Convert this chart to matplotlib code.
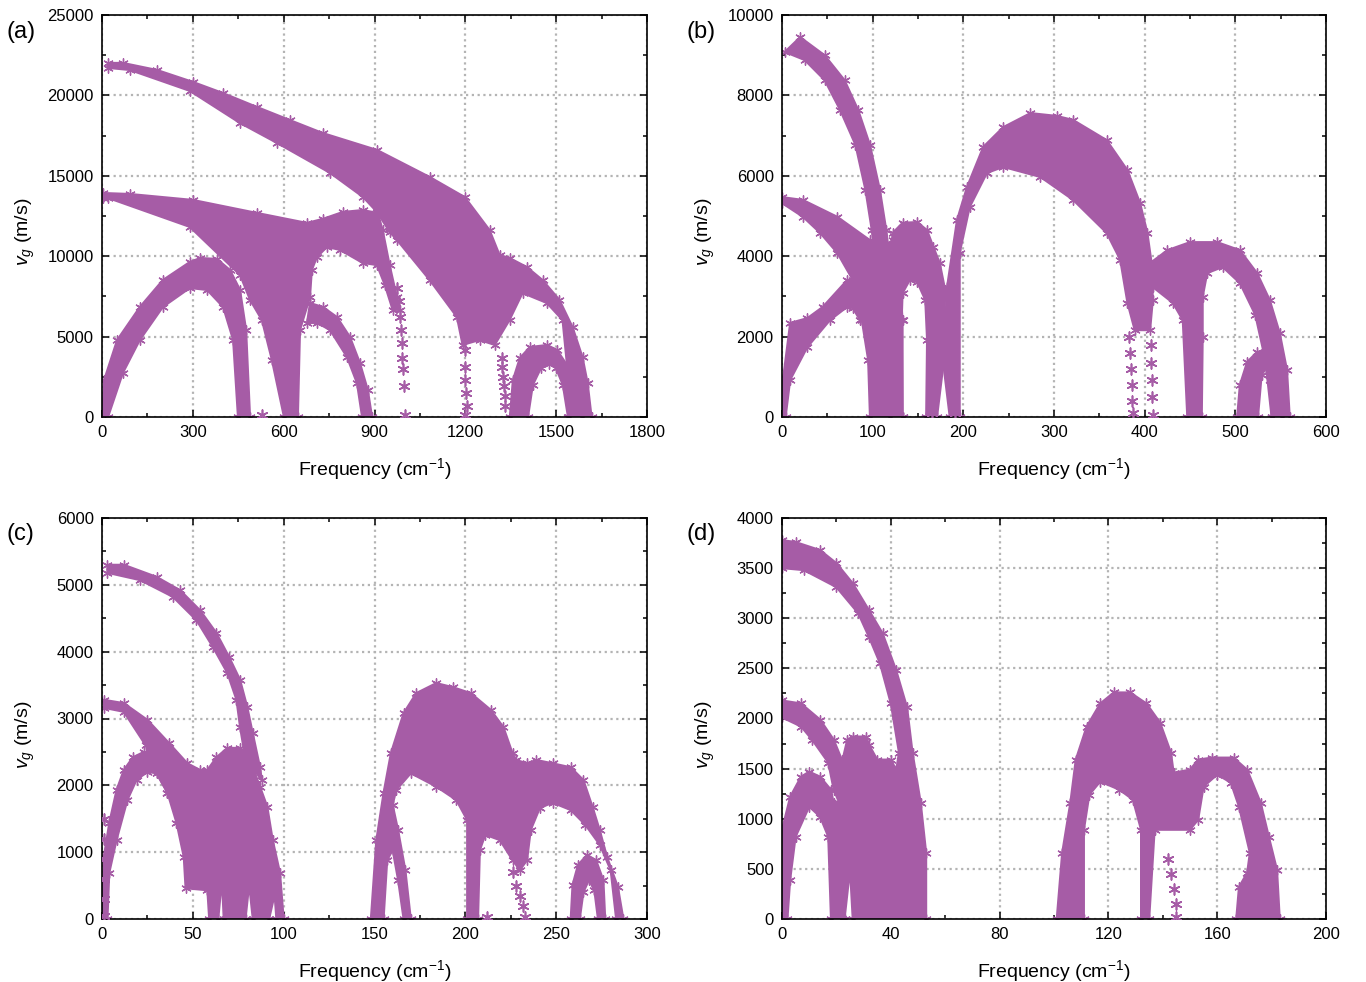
import matplotlib
matplotlib.use('Agg')
import matplotlib.pyplot as plt
from matplotlib.ticker import MultipleLocator

plt.rcParams['font.family'] = ['Liberation Sans', 'DejaVu Sans']
plt.rcParams['mathtext.fontset'] = 'custom'
plt.rcParams['mathtext.rm'] = 'Liberation Sans'
plt.rcParams['mathtext.it'] = 'Liberation Sans:italic'

purple = '#a65ca6'

# ---- panel (a): outlines of the v_g bands (frequency cm-1, v_g m/s) ----
a_top = [(20, 22020), (69, 22020), (182, 21580), (300, 20840), (399, 20150), (512, 19280),
         (620, 18470), (729, 17660), (908, 16610), (1082, 14930), (1198, 13680), (1280, 11630),
         (1313, 10080), (1346, 9890), (1403, 9330), (1455, 8520), (1511, 7280), (1554, 5600),
         (1587, 3730), (1604, 2110), (1617, 0), (1544, 0), (1538, 2800), (1521, 6030),
         (1469, 7090), (1389, 7710), (1346, 6030), (1297, 4480), (1247, 4790), (1191, 4480),
         (1172, 6220), (1082, 8520), (974, 11010), (950, 11510), (908, 12750), (862, 13680),
         (753, 15180), (578, 17040), (455, 18290), (290, 20280), (92, 21580), (20, 21710)]
a_mid = [(3, 13930), (92, 13870), (300, 13500), (512, 12690), (677, 12070), (729, 12320),
         (795, 12750), (861, 12870), (911, 12690), (927, 11630), (950, 9450), (974, 7460),
         (983, 6660), (960, 6660), (934, 8210), (908, 9450), (861, 9580), (786, 10390),
         (743, 10570), (710, 9950), (693, 9140), (687, 7460), (654, 5410), (647, 0), (601, 0),
         (561, 3550), (528, 6030), (489, 7280), (456, 8830), (290, 11820), (20, 13620), (3, 13620)]
a_low = [(0, 0), (7, 2300), (50, 4790), (125, 6840), (201, 8520), (290, 9640), (324, 9890),
         (380, 9830), (423, 9140), (456, 7900), (476, 5410), (489, 0), (449, 0), (433, 4790),
         (400, 6840), (347, 7900), (290, 8020), (201, 6840), (125, 4790), (69, 2740), (20, 0)]
a_thin = [(687, 7090), (730, 6840), (776, 6220), (819, 4980), (852, 3360), (878, 1680), (892, 0),
          (859, 0), (842, 2110), (809, 3730), (753, 5410), (710, 5850), (677, 5850)]
a_small = [(1347, 0), (1357, 2300), (1380, 3670), (1413, 4350), (1470, 4480), (1503, 4170),
           (1536, 3230), (1565, 1680), (1585, 0), (1539, 0), (1522, 1990), (1499, 3050),
           (1476, 3300), (1450, 3050), (1423, 1990), (1407, 0)]
a_star_f = [975, 980, 985, 988, 990, 992, 995, 998, 1000, 1198, 1200, 1200, 1202, 1205, 1200,
            1320, 1322, 1325, 1327, 1330, 1332, 530]
a_star_v = [8000, 7200, 6200, 5400, 4600, 3700, 3000, 1900, 100, 4170, 3110, 2300, 1490, 700, 100,
            3700, 3100, 2500, 1900, 1300, 700, 100]

# ---- panel (b) ----
b_steep = [(3, 9080), (20, 9450), (47, 9000), (69, 8380), (84, 7640), (97, 6770), (108, 5650),
           (115, 4650), (119, 3900), (103, 3900), (99, 4650), (92, 5650), (81, 6770), (64, 7640),
           (47, 8380), (25, 8880)]
b_upper = [(0, 5470), (23, 5400), (61, 4980), (97, 4400), (116, 4080), (94, 2990), (78, 3410),
           (61, 4080), (42, 4580), (23, 4980), (0, 5320)]
b_rise = [(0, 0), (1, 920), (9, 2340), (28, 2460), (45, 2740), (72, 3410), (86, 3410), (86, 2410),
          (78, 2710), (72, 2740), (53, 2410), (28, 1740), (9, 920), (4, 0)]
b_leg = [(86, 3660), (114, 4280), (122, 4400), (130, 3410), (133, 2410), (133, 0), (97, 0),
         (95, 1420), (88, 2410)]
b_hump = [(119, 0), (119, 3900), (122, 4580), (133, 4830), (149, 4850), (160, 4650), (167, 4230),
          (174, 3830), (180, 3160), (178, 1300), (171, 0), (159, 0), (160, 1920), (158, 2910),
          (149, 3360), (141, 3410), (133, 3080), (132, 2410), (133, 0)]
b_arch = [(185, 0), (178, 1300), (182, 3230), (193, 4900), (204, 5720), (222, 6720), (244, 7210),
          (274, 7560), (303, 7490), (321, 7390), (358, 6890), (381, 6140), (395, 5320), (403, 4580),
          (408, 3780), (409, 2910), (406, 2160), (389, 2160), (381, 2840), (373, 3910), (358, 4580),
          (321, 5400), (285, 5970), (244, 6220), (226, 6070), (207, 5220), (196, 4080), (196, 0)]
b_arch2 = [(406, 3830), (425, 4150), (450, 4350), (480, 4350), (505, 4150), (524, 3580),
           (538, 2910), (549, 2090), (557, 1170), (560, 0), (540, 0), (533, 1420), (522, 2540),
           (505, 3330), (486, 3730), (469, 3580), (464, 2990), (464, 1990), (463, 0), (447, 0),
           (442, 2410), (431, 2840), (409, 3230)]
b_arch3 = [(502, 0), (505, 800), (513, 1370), (524, 1620), (538, 1670), (547, 1420), (551, 0),
           (540, 0), (538, 920), (534, 1220), (529, 1040), (525, 0)]
b_star_f = [383, 384, 385, 386, 386, 387, 407, 407, 408, 408, 409, 191, 165]
b_star_v = [2000, 1600, 1200, 800, 400, 100, 1800, 1340, 920, 500, 60, 100, 100]

# ---- panel (c) ----
c_steep = [(3, 5300), (12, 5300), (30, 5120), (43, 4920), (54, 4620), (63, 4280), (70, 3920),
           (76, 3580), (80, 3170), (83, 2780), (87, 2270), (88, 2080), (79, 2380), (76, 2870),
           (74, 3280), (69, 3680), (61, 4070), (52, 4470), (39, 4820), (21, 5070), (3, 5180)]
c_mass = [(1, 3280), (12, 3230), (25, 2980), (37, 2630), (47, 2330), (54, 2230), (58, 2230),
          (63, 2420), (69, 2560), (76, 2560), (81, 2420), (87, 1980), (91, 1680), (94, 1180),
          (98, 690), (100, 0), (96, 0), (95, 360), (92, 0), (83, 0), (81, 510), (79, 0), (67, 0),
          (66, 580), (64, 0), (59, 0), (58, 430), (46, 460), (45, 930), (41, 1440), (36, 1890),
          (30, 2180), (24, 2600), (12, 3100), (1, 3160)]
c_arch = [(0, 0), (1, 930), (4, 1440), (8, 1930), (12, 2230), (17, 2420), (23, 2500), (30, 2480),
          (36, 2400), (36, 1890), (30, 2180), (25, 2200), (19, 2080), (14, 1780), (8, 1180),
          (4, 690), (3, 0)]
c_right = [(148, 0), (151, 1180), (155, 1890), (159, 2480), (166, 3080), (173, 3380), (184, 3530),
           (193, 3470), (203, 3380), (214, 3130), (221, 2870), (226, 2480), (228, 2380), (234, 2330),
           (239, 2380), (248, 2330), (258, 2270), (265, 2080), (270, 1680), (274, 1330), (278, 930),
           (284, 480), (287, 0), (283, 0), (280, 730), (274, 1110), (266, 1410), (258, 1630),
           (248, 1740), (241, 1660), (236, 1330), (234, 880), (230, 730), (226, 880), (219, 1180),
           (211, 1260), (208, 1030), (207, 0), (201, 0), (201, 1480), (195, 1780), (184, 1980),
           (170, 2180), (162, 1930), (160, 1710), (163, 1330), (167, 730), (170, 0), (166, 0),
           (163, 580), (160, 1030), (157, 880), (155, 0)]
c_small = [(258, 0), (259, 510), (262, 810), (267, 960), (272, 880), (276, 580), (277, 0),
           (273, 0), (271, 430), (268, 580), (265, 400), (263, 0)]
c_star_f = [1, 1, 1, 1, 1, 1, 226, 228, 230, 232, 233, 212]
c_star_v = [1500, 1200, 900, 600, 300, 50, 700, 500, 350, 200, 30, 30]

# ---- panel (d) ----
d_top = [(0, 3780), (5, 3760), (14, 3680), (20, 3550), (26, 3350), (32, 3080), (37, 2850),
         (42, 2480), (46, 2110), (48, 1660), (51, 1160), (53, 660), (53, 0), (26, 0), (25, 490),
         (23, 0), (22, 0), (21, 1160), (22, 1560), (24, 1790), (26, 1820), (31, 1820), (32, 1740),
         (35, 1590), (40, 1590), (42, 1490), (43, 1660), (40, 2150), (36, 2550), (32, 2810),
         (28, 3050), (20, 3310), (8, 3480), (0, 3500)]
d_mid = [(0, 2180), (7, 2150), (14, 1990), (19, 1790), (22, 1590), (21, 1160), (19, 1290),
         (17, 1560), (11, 1790), (7, 1920), (0, 2010)]
d_low = [(0, 890), (3, 1220), (7, 1420), (10, 1470), (14, 1420), (18, 1290), (19, 1160), (21, 1160),
         (22, 0), (18, 0), (17, 820), (14, 1020), (10, 1120), (5, 820), (3, 390), (2, 0), (0, 0)]
d_right = [(101, 0), (103, 660), (106, 1160), (108, 1590), (112, 1920), (117, 2150), (122, 2260),
           (128, 2260), (134, 2150), (139, 1960), (143, 1660), (144, 1460), (150, 1490), (153, 1590),
           (158, 1610), (166, 1610), (171, 1490), (176, 1160), (179, 820), (182, 490), (183, 0),
           (167, 0), (168, 320), (171, 460), (172, 660), (168, 1120), (165, 1360), (160, 1440),
           (155, 1320), (153, 990), (150, 890), (137, 890), (135, 0), (132, 0), (132, 890),
           (129, 1190), (124, 1290), (117, 1370), (113, 1240), (111, 890), (111, 0)]
d_star_f = [142, 143, 144, 145, 145]
d_star_v = [600, 450, 300, 150, 20]

panels = [
    dict(label='(a)', box=(102, 647, 15, 417), xlim=1800, xmaj=300, xmin=150, ylim=25000,
         ymaj=5000, ymin=2500, shapes=[a_top, a_mid, a_low, a_thin, a_small],
         stars=(a_star_f, a_star_v), lab_xy=(7, 32)),
    dict(label='(b)', box=(782, 1326, 15, 417), xlim=600, xmaj=100, xmin=50, ylim=10000,
         ymaj=2000, ymin=1000, shapes=[b_steep, b_upper, b_rise, b_leg, b_hump, b_arch, b_arch2, b_arch3],
         stars=(b_star_f, b_star_v), lab_xy=(687, 32)),
    dict(label='(c)', box=(102, 647, 518, 919), xlim=300, xmaj=50, xmin=25, ylim=6000,
         ymaj=1000, ymin=500, shapes=[c_steep, c_mass, c_arch, c_right, c_small],
         stars=(c_star_f, c_star_v), lab_xy=(7, 534)),
    dict(label='(d)', box=(782, 1326, 518, 919), xlim=200, xmaj=40, xmin=20, ylim=4000,
         ymaj=500, ymin=250, shapes=[d_top, d_mid, d_low, d_right],
         stars=(d_star_f, d_star_v), lab_xy=(687, 534)),
]

W, H = 1366, 982
fig = plt.figure(figsize=(W / 100, H / 100), dpi=100)

for p in panels:
    x0, x1, y0, y1 = p['box']
    ax = fig.add_axes([x0 / W, 1 - y1 / H, (x1 - x0) / W, (y1 - y0) / H])
    ax.set_axisbelow(True)
    for shp in p['shapes']:
        fx = [s[0] for s in shp]
        vy = [s[1] for s in shp]
        ax.fill(fx, vy, facecolor=purple, edgecolor=purple, lw=1.5, joinstyle='round', zorder=2)
        ax.scatter(fx, vy, marker=(6, 2, 0), s=45, color=purple, linewidths=1.0, zorder=2)
    sf, sv = p['stars']
    ax.scatter(sf, sv, marker=(6, 2, 0), s=60, color=purple, linewidths=1.2, zorder=3)

    ax.set_xlim(0, p['xlim'])
    ax.set_ylim(0, p['ylim'])
    ax.xaxis.set_major_locator(MultipleLocator(p['xmaj']))
    ax.xaxis.set_minor_locator(MultipleLocator(p['xmin']))
    ax.yaxis.set_major_locator(MultipleLocator(p['ymaj']))
    ax.yaxis.set_minor_locator(MultipleLocator(p['ymin']))
    ax.tick_params(which='both', direction='in', top=True, right=True, labelsize=12, width=1.1,
                   pad=6)
    ax.tick_params(which='major', length=5)
    ax.tick_params(which='minor', length=3)
    for sp in ax.spines.values():
        sp.set_linewidth(1.2)
    ax.grid(True, which='major', color='#b4b4b4', linestyle=(0, (1, 1.6)), linewidth=1.6)
    ax.set_xlabel('Frequency (cm$^{-1}$)', fontsize=14, labelpad=11)
    ax.set_ylabel(r'$\mathit{v}_{\mathit{g}}$ (m/s)', fontsize=14)
    ax.yaxis.set_label_coords(-0.12, 0.46)
    fig.text(p['lab_xy'][0] / W, 1 - p['lab_xy'][1] / H, p['label'], fontsize=17,
             ha='left', va='center')

fig.savefig('out.png', dpi=100)
